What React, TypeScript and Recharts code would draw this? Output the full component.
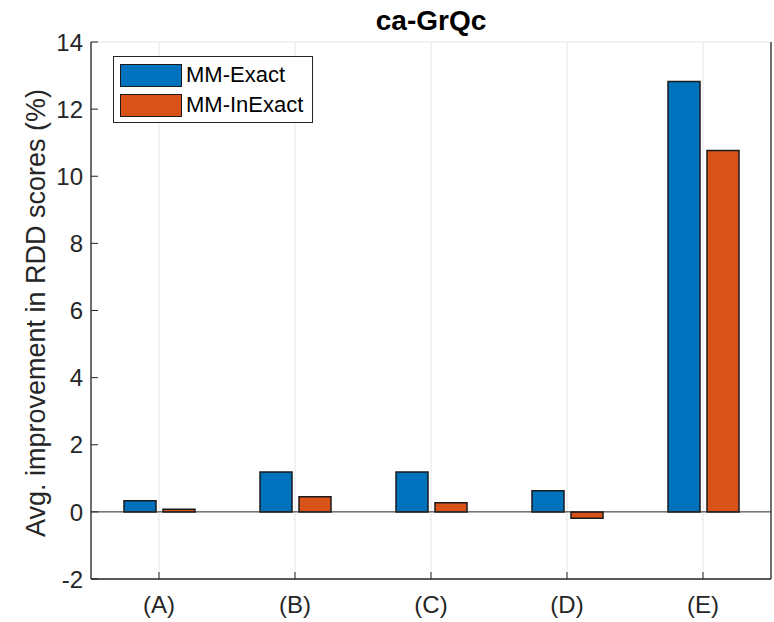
import React from 'react';
import { BarChart, Bar, XAxis, YAxis, CartesianGrid, ReferenceLine, Legend } from 'recharts';

const categories = ['(A)', '(B)', '(C)', '(D)', '(E)'];
const mmExact = [0.33, 1.19, 1.19, 0.63, 12.82];
const mmInExact = [0.08, 0.45, 0.27, -0.19, 10.77];
const yTicks = [-2, 0, 2, 4, 6, 8, 10, 12, 14];

const data = categories.map((cat, i) => ({ cat, exact: mmExact[i], inexact: mmInExact[i] }));

const FONT = '"Liberation Sans", Arial, sans-serif';
const AXIS = '#262626';
const BLUE = '#0072BD';
const ORANGE = '#D95319';

function LeftTick({ x, y, payload }: any) {
  return (
    <g>
      <line x1={x} y1={y} x2={x + 7} y2={y} stroke={AXIS} strokeWidth={1} />
      <text x={x - 8} y={y} dy="0.36em" textAnchor="end" fontSize={24} fill={AXIS} fontFamily={FONT}>
        {payload.value}
      </text>
    </g>
  );
}

function RightTick({ x, y }: any) {
  return <line x1={x} y1={y} x2={x - 7} y2={y} stroke={AXIS} strokeWidth={1} />;
}

function BottomTick({ x, y, payload }: any) {
  return (
    <g>
      <line x1={x} y1={y} x2={x} y2={y - 7} stroke={AXIS} strokeWidth={1} />
      <text x={x} y={y + 34} textAnchor="middle" fontSize={24} fill={AXIS} fontFamily={FONT}>
        {payload.value}
      </text>
    </g>
  );
}

function TopTick({ x, y }: any) {
  return <line x1={x} y1={y} x2={x} y2={y + 7} stroke={AXIS} strokeWidth={1} />;
}

function LegendBox({ payload }: any) {
  return (
    <div
      style={{
        border: `1px solid ${AXIS}`,
        background: '#fff',
        padding: '3px 6px 3px 6px',
        fontFamily: FONT,
        fontSize: 22,
        color: '#000',
        width: 200,
        boxSizing: 'border-box',
        height: 67,
        whiteSpace: 'nowrap',
        textAlign: 'left',
      }}
    >
      {(payload || []).map((p: any) => (
        <div key={p.value} style={{ display: 'flex', alignItems: 'center', height: 30 }}>
          <span
            style={{
              display: 'inline-block',
              flex: 'none',
              width: 62,
              height: 23,
              background: p.color,
              border: '1.5px solid #1a1a1a',
              marginRight: 4,
              boxSizing: 'border-box',
            }}
          />
          <span>{p.value}</span>
        </div>
      ))}
    </div>
  );
}

export default function App() {
  return (
    <div style={{ position: 'absolute', left: 0, top: 0, width: 774, height: 622, background: '#fff' }}>
      <div
        style={{
          position: 'absolute',
          left: 91,
          width: 680,
          top: 6,
          lineHeight: '30px',
          textAlign: 'center',
          fontFamily: FONT,
          fontWeight: 'bold',
          fontSize: 28,
          color: '#000',
          zIndex: 2,
        }}
      >
        ca-GrQc
      </div>
      <BarChart
        width={774}
        height={622}
        data={data}
        margin={{ top: 42, right: 0, bottom: 0, left: 0 }}
        barSize={32}
        barGap={7}
      >
        <CartesianGrid stroke="#e5e5e5" strokeWidth={1} />
        <XAxis
          dataKey="cat"
          xAxisId="bottom"
          height={43}
          stroke={AXIS}
          strokeWidth={1.3}
          tickLine={false}
          tickSize={0}
          tickMargin={0}
          tick={<BottomTick />}
          interval={0}
        />
        <XAxis
          dataKey="cat"
          xAxisId="top"
          orientation="top"
          height={0}
          stroke={AXIS}
          strokeWidth={1.3}
          tickLine={false}
          tickSize={0}
          tickMargin={0}
          tick={<TopTick />}
          interval={0}
        />
        <YAxis
          yAxisId="left"
          domain={[-2, 14]}
          ticks={yTicks}
          width={91}
          stroke={AXIS}
          strokeWidth={1.3}
          tickLine={false}
          tickSize={0}
          tickMargin={0}
          tick={<LeftTick />}
          interval={0}
          allowDataOverflow
          label={{
            value: 'Avg. improvement in RDD scores (%)',
            angle: -90,
            position: 'insideLeft',
            content: () => (
              <text
                x={35}
                y={313}
                transform="rotate(-90, 35, 313)"
                textAnchor="middle"
                dy="0.36em"
                fontSize={27}
                fill={AXIS}
                fontFamily={FONT}
              >
                Avg. improvement in RDD scores (%)
              </text>
            ),
          }}
        />
        <YAxis
          yAxisId="right"
          orientation="right"
          domain={[-2, 14]}
          ticks={yTicks}
          width={3}
          stroke={AXIS}
          strokeWidth={1.3}
          tickLine={false}
          tickSize={0}
          tickMargin={0}
          tick={<RightTick />}
          interval={0}
        />
        <ReferenceLine y={0} yAxisId="left" xAxisId="bottom" stroke={AXIS} strokeWidth={1} />
        <Legend
          layout="horizontal"
          verticalAlign="middle"
          align="center"
          content={<LegendBox />}
          wrapperStyle={{ left: 113, top: 56, width: 'auto', height: 'auto' }}
        />
        <Bar
          dataKey="exact"
          name="MM-Exact"
          fill={BLUE}
          stroke="#1a1a1a"
          strokeWidth={1.5}
          xAxisId="bottom"
          yAxisId="left"
          isAnimationActive={false}
        />
        <Bar
          dataKey="inexact"
          name="MM-InExact"
          fill={ORANGE}
          stroke="#1a1a1a"
          strokeWidth={1.5}
          xAxisId="bottom"
          yAxisId="left"
          isAnimationActive={false}
        />
      </BarChart>
    </div>
  );
}
